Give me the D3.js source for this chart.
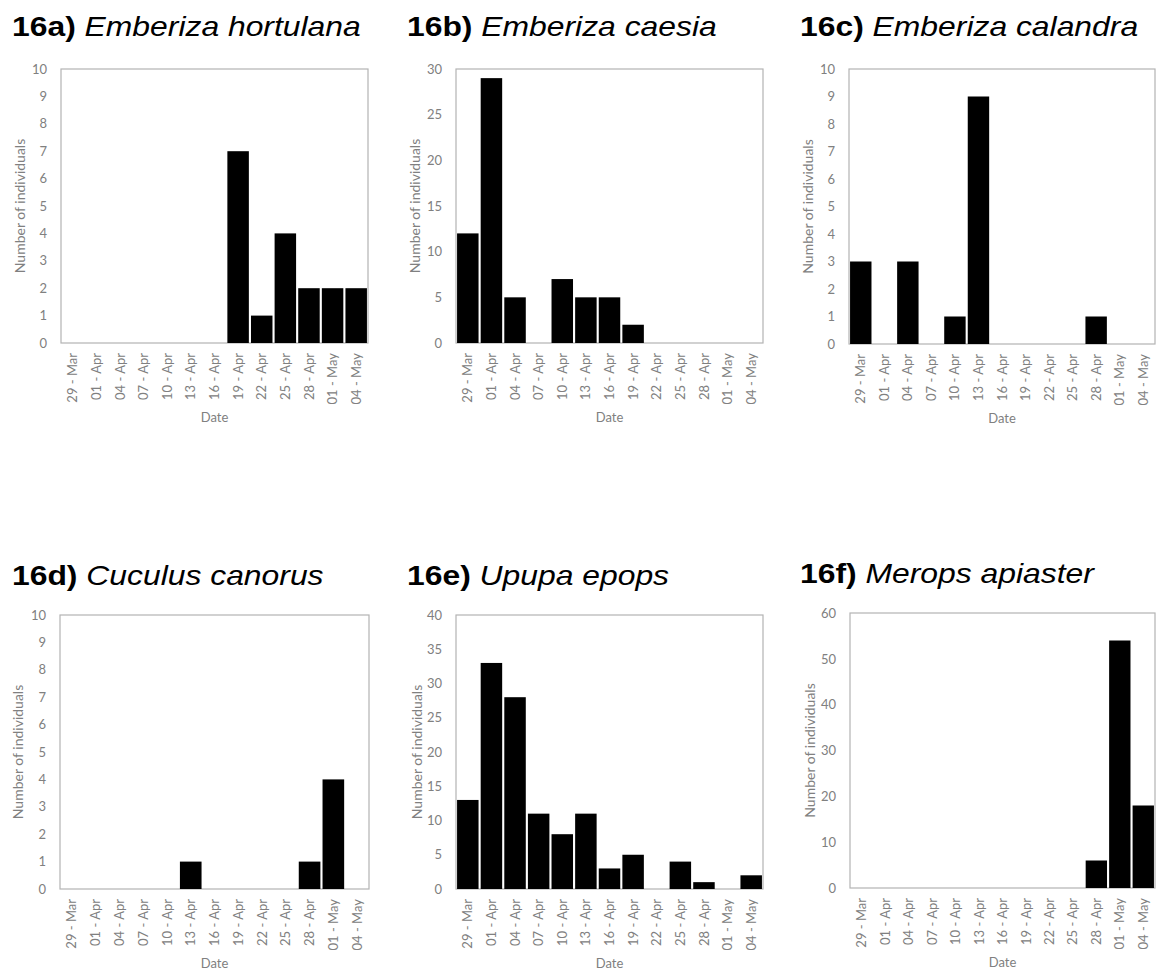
<!DOCTYPE html>
<html>
<head>
<meta charset="utf-8">
<script src="https://cdn.jsdelivr.net/npm/d3@7"></script>
<style>
  html, body { margin: 0; padding: 0; background: #fff; }
  svg { display: block; }
</style>
</head>
<body>
<svg id="chart" width="1157" height="970"></svg>
<script>
// ---- data ----
const dates = ["29 - Mar","01 - Apr","04 - Apr","07 - Apr","10 - Apr","13 - Apr","16 - Apr","19 - Apr","22 - Apr","25 - Apr","28 - Apr","01 - May","04 - May"];
const panelIds = ["16a)","16b)","16c)","16d)","16e)","16f)"];
const species = ["Emberiza hortulana","Emberiza caesia","Emberiza calandra","Cuculus canorus","Upupa epops","Merops apiaster"];
const hortulana = [0,0,0,0,0,0,0,7,1,4,2,2,2];
const caesia    = [12,29,5,0,7,5,5,2,0,0,0,0,0];
const calandra  = [3,0,3,0,1,9,0,0,0,0,1,0,0];
const canorus   = [0,0,0,0,0,1,0,0,0,0,1,4,0];
const epops     = [13,33,28,11,8,11,3,5,0,4,1,0,2];
const apiaster  = [0,0,0,0,0,0,0,0,0,0,6,54,18];
const yMax   = [10,30,10,10,40,60];
const yStep  = [1,5,1,1,5,10];
const yLabel = "Number of individuals";
const xLabel = "Date";

const seriesList = [hortulana, caesia, calandra, canorus, epops, apiaster];

// ---- layout (positions only) ----
const layout = [
  {left: 61,  top: 69,  w: 307, h: 274, tx: 12,  ty: 36,  yl: 20},
  {left: 456, top: 69,  w: 307, h: 274, tx: 407, ty: 36,  yl: 415},
  {left: 849, top: 69,  w: 306, h: 275, tx: 800, ty: 36,  yl: 808},
  {left: 60,  top: 615, w: 309, h: 274, tx: 12,  ty: 585, yl: 18},
  {left: 456, top: 615, w: 307, h: 274, tx: 407, ty: 585, yl: 417},
  {left: 850, top: 613, w: 305, h: 275, tx: 800, ty: 583, yl: 810}
];

const svg = d3.select("#chart");
const tickColor = "#808080";
const frameColor = "#b3b3b3";
const font = "Lato, 'Open Sans', sans-serif";

seriesList.forEach((vals, i) => {
  const L = layout[i];
  const g = svg.append("g").attr("transform", `translate(${L.left},${L.top})`);

  const x = d3.scaleBand().domain(dates).range([0, L.w]).paddingInner(0.09).paddingOuter(0.045);
  const y = d3.scaleLinear().domain([0, yMax[i]]).range([L.h, 0]);

  // title
  const t = svg.append("text")
    .attr("transform", `translate(${L.tx},${L.ty}) scale(1.18,1)`)
    .attr("font-family", "'Liberation Sans', Arial, sans-serif")
    .attr("font-size", 27).attr("fill", "#000");
  t.append("tspan").attr("font-weight", "bold").text(panelIds[i] + " ");
  t.append("tspan").attr("font-style", "italic").text(species[i]);

  // frame
  g.append("rect").attr("x", 0).attr("y", 0).attr("width", L.w).attr("height", L.h)
    .attr("fill", "none").attr("stroke", frameColor).attr("stroke-width", 1.2);

  // bars
  g.selectAll("rect.bar").data(vals.map((v, k) => ({d: dates[k], v})).filter(o => o.v > 0))
    .join("rect").attr("class", "bar")
    .attr("x", o => x(o.d)).attr("width", x.bandwidth())
    .attr("y", o => y(o.v)).attr("height", o => y(0) - y(o.v))
    .attr("fill", "#000");

  // y axis
  const ticks = d3.range(0, yMax[i] + yStep[i] / 2, yStep[i]);
  const ya = d3.axisLeft(y).tickValues(ticks).tickSize(0).tickPadding(14).tickFormat(d3.format("d"));
  const yg = g.append("g").call(ya);
  yg.select(".domain").remove();
  yg.selectAll("text").attr("font-family", font).attr("font-size", 13).attr("fill", tickColor);

  // x axis
  const xa = d3.axisBottom(x).tickSize(0).tickPadding(0);
  const xg = g.append("g").attr("transform", `translate(0,${L.h})`).call(xa);
  xg.select(".domain").remove();
  xg.selectAll("text")
    .attr("font-family", font).attr("font-size", 13).attr("fill", tickColor)
    .attr("text-anchor", "end")
    .attr("transform", "rotate(-90)")
    .attr("x", -10).attr("y", 0).attr("dy", "0.35em");

  // axis titles
  g.append("text")
    .attr("transform", `translate(${L.yl - L.left},${L.h / 2}) rotate(-90)`)
    .attr("text-anchor", "middle").attr("dy", "0.35em")
    .attr("font-family", font).attr("font-size", 14).attr("fill", tickColor)
    .text(yLabel);
  g.append("text")
    .attr("x", L.w / 2).attr("y", L.h + 74).attr("dy", "0.35em")
    .attr("text-anchor", "middle")
    .attr("font-family", font).attr("font-size", 13).attr("fill", tickColor)
    .text(xLabel);
});
</script>
</body>
</html>
